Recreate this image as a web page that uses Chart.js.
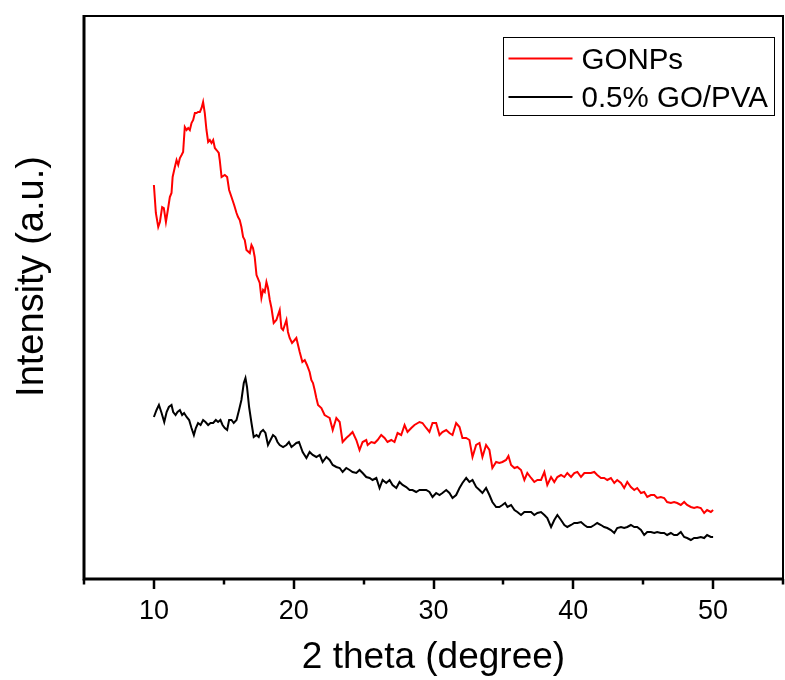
<!DOCTYPE html>
<html>
<head>
<meta charset="utf-8">
<script src="https://cdn.jsdelivr.net/npm/chart.js@4/dist/chart.umd.min.js"></script>
<style>
  html, body { margin: 0; padding: 0; background: #fff; }
  #c { display: block; }
</style>
</head>
<body>
<canvas id="c" width="785" height="680"></canvas>
<script>
// ---- data ----
const seriesNames = ['GONPs', '0.5% GO/PVA'];
const seriesColors = ['#ff0000', '#000000'];
const xTitle = '2 theta (degree)';
const yTitle = 'Intensity (a.u.)';

const gonpsTheta = [10.00,10.14,10.31,10.43,10.59,10.71,10.86,11.02,11.14,11.26,11.34,11.50,11.62,11.74,11.86,11.98,12.09,12.21,12.34,12.45,12.57,12.69,12.81,12.93,13.05,13.16,13.29,13.41,13.52,13.64,13.76,13.88,14.00,14.12,14.24,14.36,14.48,14.64,14.71,14.84,15.07,15.24,15.38,15.55,15.74,15.91,16.02,16.14,16.26,16.38,16.50,16.62,16.86,16.98,17.09,17.21,17.34,17.57,17.69,17.81,17.93,18.05,18.16,18.29,18.41,18.57,18.76,19.00,19.12,19.24,19.36,19.48,19.59,19.71,19.88,20.07,20.19,20.31,20.43,20.62,20.79,20.95,21.14,21.26,21.38,21.50,21.62,21.74,21.98,22.21,22.45,22.57,22.79,23.05,23.29,23.50,23.76,24.00,24.21,24.48,24.71,24.93,25.19,25.29,25.55,25.79,26.00,26.26,26.50,26.71,26.98,27.21,27.43,27.69,27.93,28.14,28.41,28.64,29.00,29.21,29.48,29.71,29.93,30.19,30.43,30.64,30.91,31.14,31.36,31.62,31.86,32.07,32.34,32.57,32.79,33.05,33.29,33.50,33.76,34.00,34.21,34.48,34.71,34.93,35.19,35.36,35.55,35.79,36.00,36.26,36.50,36.71,36.98,37.21,37.43,37.69,37.93,38.14,38.41,38.64,38.86,39.12,39.36,39.57,39.84,40.07,40.29,40.55,40.79,41.00,41.26,41.50,41.71,41.98,42.21,42.43,42.69,42.93,43.14,43.41,43.64,43.86,44.12,44.36,44.57,44.84,45.07,45.29,45.55,45.79,46.00,46.26,46.50,46.71,46.98,47.21,47.43,47.69,47.93,48.14,48.41,48.64,48.86,49.12,49.36,49.57,49.84,50.00];
const gonpsIntensity = [394,366,352,357,372,371,357,371,382,386,402,412,419,414,421,424,427,452,449,451,449,456,459,466,466,467,467,471,477,466,449,437,439,436,439,431,429,426,419,402,404,402,389,382,374,366,362,359,352,342,339,329,326,334,331,322,304,296,281,289,287,297,291,279,271,256,259,269,251,249,254,259,247,241,236,239,241,234,227,217,219,214,207,199,196,189,181,174,171,164,162,161,149,161,157,137,141,144,147,139,129,137,139,134,137,136,139,144,141,137,139,137,146,144,154,147,151,154,157,156,151,147,156,156,144,147,149,146,144,156,152,141,141,139,122,134,136,122,134,129,111,117,116,117,119,123,114,111,112,109,99,106,101,97,99,99,107,94,102,97,102,104,102,106,102,106,107,102,106,106,106,107,104,101,101,99,101,96,99,96,91,97,92,89,91,86,87,82,84,84,81,82,81,77,76,77,76,74,77,74,72,71,72,71,66,69,67,69];

const goPvaTheta = [10.00,10.19,10.36,10.55,10.74,10.91,11.07,11.26,11.38,11.55,11.69,11.86,12.02,12.16,12.34,12.52,12.69,12.86,13.00,13.16,13.34,13.52,13.69,13.88,14.05,14.24,14.43,14.59,14.76,14.91,15.07,15.24,15.38,15.55,15.71,15.91,16.09,16.26,16.43,16.55,16.66,16.81,16.98,17.14,17.34,17.50,17.64,17.81,17.98,18.16,18.34,18.52,18.69,18.84,19.00,19.24,19.48,19.66,19.84,20.02,20.19,20.38,20.64,20.91,21.14,21.36,21.62,21.86,22.07,22.34,22.57,22.79,23.05,23.29,23.50,23.76,24.00,24.21,24.48,24.71,24.93,25.19,25.43,25.64,25.91,26.14,26.36,26.62,26.86,27.07,27.34,27.57,27.79,28.05,28.29,28.50,28.76,29.00,29.21,29.48,29.71,29.93,30.19,30.43,30.64,30.91,31.14,31.36,31.62,31.86,32.07,32.34,32.57,32.79,33.05,33.29,33.50,33.76,34.00,34.21,34.48,34.71,34.93,35.12,35.29,35.55,35.79,36.00,36.26,36.50,36.71,36.98,37.21,37.43,37.69,37.93,38.14,38.41,38.64,38.86,39.12,39.36,39.57,39.84,40.07,40.29,40.55,40.79,41.00,41.26,41.50,41.71,41.98,42.21,42.43,42.69,42.93,43.14,43.41,43.64,43.86,44.12,44.36,44.57,44.84,45.07,45.29,45.55,45.79,46.00,46.26,46.50,46.71,46.98,47.21,47.43,47.69,47.93,48.14,48.41,48.64,48.86,49.12,49.36,49.57,49.84,50.00];
const goPvaIntensity = [162,169,174,166,157,167,172,174,167,164,167,169,164,166,162,159,151,144,151,156,154,159,157,154,156,156,159,157,159,154,151,149,159,159,156,159,169,179,196,201,192,172,156,142,144,142,147,149,146,134,139,144,142,137,134,132,134,137,132,134,136,137,127,121,127,124,122,124,117,122,119,114,112,111,107,111,109,107,106,109,106,102,101,99,101,91,99,96,99,94,91,97,94,92,89,89,87,89,89,89,87,82,86,84,86,89,86,81,84,91,96,101,97,99,92,89,86,91,84,77,72,72,74,76,72,74,69,67,64,67,67,67,64,66,67,64,61,52,59,64,59,54,52,54,56,56,57,54,52,52,54,56,54,52,51,49,46,51,52,51,52,54,52,52,49,44,47,47,46,47,46,46,44,46,44,44,47,42,41,39,41,41,42,41,44,42,42];

const xMajorTicks = [10, 20, 30, 40, 50];
const xMinorTicks = [5, 15, 25, 35, 45, 55];
const xRange = [5, 55];
const yRange = [0, 563];

const FONT = '"Liberation Sans", Arial, Helvetica, sans-serif';

function toPoints(xs, ys) { return xs.map((v, i) => ({ x: v, y: ys[i] })); }

const framePlugin = {
  id: 'framePlugin',
  afterDraw(chart) {
    const ctx = chart.ctx;
    const a = chart.chartArea;
    const xs = chart.scales.x;
    ctx.save();
    ctx.strokeStyle = '#000';
    ctx.lineCap = 'butt';
    // left & bottom (thicker)
    ctx.lineWidth = 3;
    ctx.beginPath();
    ctx.moveTo(a.left, a.top - 1);
    ctx.lineTo(a.left, a.bottom);
    ctx.lineTo(a.right + 1, a.bottom);
    ctx.stroke();
    // top & right
    ctx.lineWidth = 2;
    ctx.beginPath();
    ctx.moveTo(a.left, a.top);
    ctx.lineTo(a.right, a.top);
    ctx.lineTo(a.right, a.bottom);
    ctx.stroke();
    // ticks
    ctx.lineWidth = 2.5;
    ctx.beginPath();
    xMajorTicks.forEach(v => {
      const p = Math.round(xs.getPixelForValue(v));
      ctx.moveTo(p, a.bottom); ctx.lineTo(p, a.bottom + 10);
    });
    xMinorTicks.forEach(v => {
      const p = Math.round(xs.getPixelForValue(v));
      ctx.moveTo(p, a.bottom); ctx.lineTo(p, a.bottom + 5.5);
    });
    ctx.stroke();

    // y-axis title (rotated)
    ctx.save();
    ctx.translate(33, (a.top + a.bottom) / 2 - 21);
    ctx.rotate(-Math.PI / 2);
    ctx.font = '38px ' + FONT;
    ctx.fillStyle = '#000';
    ctx.textAlign = 'center';
    ctx.textBaseline = 'middle';
    ctx.fillText(yTitle, 0, 0);
    ctx.restore();

    // legend
    const bw = 271, bh = 78;
    const bx = a.right - 9 - bw + 0.5, by = a.top + 21 + 0.5;
    ctx.lineWidth = 1;
    ctx.strokeStyle = '#000';
    ctx.strokeRect(bx, by, bw, bh);
    ctx.font = '29.5px ' + FONT;
    ctx.textBaseline = 'middle';
    ctx.textAlign = 'left';
    chart.data.datasets.forEach((ds, i) => {
      const cy = by + 21 + i * 38.5;
      ctx.strokeStyle = ds.borderColor;
      ctx.lineWidth = 2;
      ctx.beginPath();
      ctx.moveTo(bx + 5, cy);
      ctx.lineTo(bx + 69, cy);
      ctx.stroke();
      ctx.fillStyle = '#000';
      ctx.fillText(ds.label, bx + 78, cy + 2);
    });
    ctx.restore();
  }
};

new Chart(document.getElementById('c'), {
  type: 'line',
  data: {
    datasets: [
      {
        label: seriesNames[0],
        data: toPoints(gonpsTheta, gonpsIntensity),
        borderColor: seriesColors[0],
        borderWidth: 2,
        pointRadius: 0,
        tension: 0,
        fill: false
      },
      {
        label: seriesNames[1],
        data: toPoints(goPvaTheta, goPvaIntensity),
        borderColor: seriesColors[1],
        borderWidth: 2,
        pointRadius: 0,
        tension: 0,
        fill: false
      }
    ]
  },
  options: {
    responsive: false,
    animation: false,
    devicePixelRatio: 1,
    layout: { padding: { top: 16, right: 2, left: 0, bottom: 0 } },
    plugins: {
      legend: { display: false },
      tooltip: { enabled: false },
      title: { display: false }
    },
    scales: {
      x: {
        type: 'linear',
        min: xRange[0],
        max: xRange[1],
        afterBuildTicks: (s) => { s.ticks = xMajorTicks.map(v => ({ value: v })); },
        afterFit: (s) => { s.height = 101; },
        grid: { display: false, drawTicks: false },
        border: { display: false },
        ticks: {
          padding: 16,
          color: '#000',
          font: { family: FONT, size: 27 },
          maxRotation: 0,
          callback: (v) => String(v)
        },
        title: {
          display: true,
          text: xTitle,
          color: '#000',
          font: { family: FONT, size: 37 },
          padding: { top: 0, bottom: 0 }
        }
      },
      y: {
        type: 'linear',
        min: yRange[0],
        max: yRange[1],
        afterFit: (s) => { s.width = 84; },
        grid: { display: false, drawTicks: false },
        border: { display: false },
        ticks: { display: false },
        title: { display: false }
      }
    }
  },
  plugins: [framePlugin]
});
</script>
</body>
</html>
